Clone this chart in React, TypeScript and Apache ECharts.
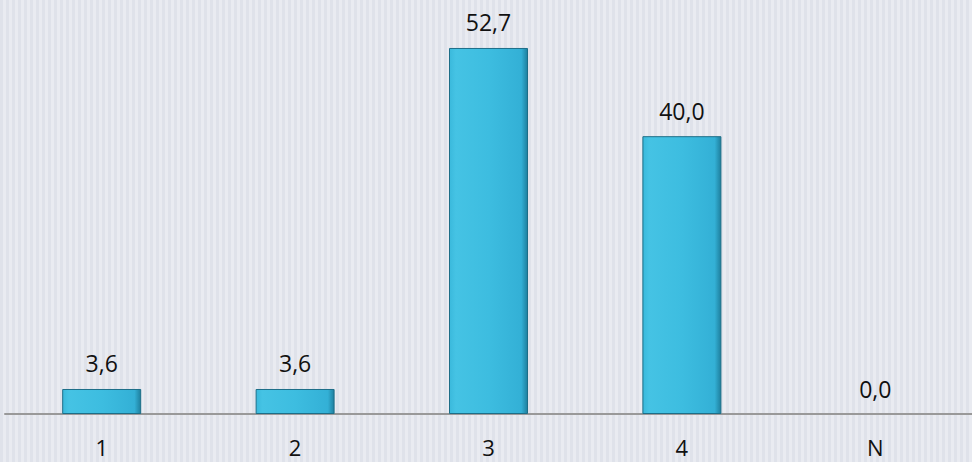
import React, { useEffect, useRef } from "react";
import * as echarts from "echarts";

const categories = ["1", "2", "3", "4", "N"];
const values = [3.6, 3.6, 52.7, 40.0, 0.0];

export default function App() {
  const ref = useRef<HTMLDivElement>(null);
  useEffect(() => {
    document.body.style.margin = "0";
    const chart = echarts.init(ref.current!, null, { renderer: "svg" });
    const barColor = new echarts.graphic.LinearGradient(0, 0, 1, 0, [
      { offset: 0, color: "#3ab9dc" },
      { offset: 0.08, color: "#45c3e4" },
      { offset: 0.5, color: "#3dbde0" },
      { offset: 0.92, color: "#33b0d6" },
      { offset: 1, color: "#1e7f9e" },
    ]);
    chart.setOption({
      animation: false,
      backgroundColor: "transparent",
      grid: { left: 5, right: -4, top: 32, bottom: 48 },
      xAxis: {
        type: "category",
        data: categories,
        axisLine: { lineStyle: { color: "#999999", width: 2 } },
        axisTick: { show: false },
        axisLabel: {
          margin: 22,
          fontSize: 22,
          lineHeight: 22,
          color: "#111111",
          fontFamily: "Open Sans",
        },
      },
      yAxis: {
        type: "value",
        min: 0,
        max: 55,
        show: false,
        splitLine: { show: false },
      },
      series: [
        {
          type: "bar",
          data: values.map((v) => ({
            value: v,
            itemStyle: {
              color: barColor,
              borderColor: "#1d6e88",
              borderWidth: v === 0 ? 0 : 1,
            },
          })),
          barWidth: 79,
          label: {
            show: true,
            position: "top",
            distance: 14,
            fontSize: 23,
            color: "#111111",
            fontFamily: "Open Sans",
            formatter: (p: any) => Number(p.value).toFixed(1).replace(".", ","),
          },
        },
      ],
    });
    return () => chart.dispose();
  }, []);
  return (
    <div
      ref={ref}
      style={{
        width: 972,
        height: 462,
        background:
          "repeating-linear-gradient(90deg, #dfe2ea 0px, #dfe2ea 3px, #e9ebf1 3px, #e9ebf1 6px)",
      }}
    />
  );
}
